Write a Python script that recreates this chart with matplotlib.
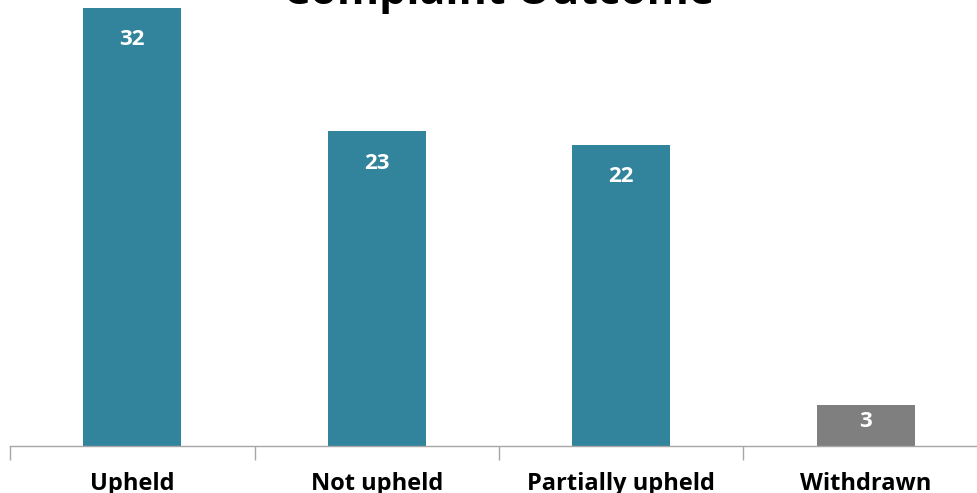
import numpy as np
import matplotlib
matplotlib.use("Agg")
import matplotlib.pyplot as plt

# data
categories = ["Upheld", "Not upheld", "Partially upheld", "Withdrawn"]
counts = [32, 23, 22, 3]
colors = ["#31849B", "#31849B", "#31849B", "#7F7F7F"]

plt.rcParams['font.family'] = ['Open Sans', 'DejaVu Sans']

fig = plt.figure(figsize=(9.77, 4.93), dpi=100)
W, H = 977, 493
# axes runs a bit past the right edge, like the original
ax = fig.add_axes([10 / W, 47 / H, 978 / W, 446 / H])

x = np.arange(len(categories))
bars = ax.bar(x, counts, width=0.4, color=colors, zorder=2)

ax.set_xlim(-0.5, len(categories) - 0.5)
ax.set_ylim(0, 32.58)

for b, v in zip(bars, counts):
    px_h = v * 446 / 32.58
    off = min(32, px_h / 3 + 3)
    ax.annotate(str(v), (b.get_x() + b.get_width() / 2, v), xytext=(0, -off),
                textcoords='offset pixels', ha='center', va='center',
                color='white', fontsize=16, fontweight='bold')

for s in ['top', 'right', 'left']:
    ax.spines[s].set_visible(False)
ax.spines['bottom'].set_color('#A6A6A6')
ax.spines['bottom'].set_linewidth(1.0)
ax.set_yticks([])

ax.set_xticks(x)
ax.set_xticklabels(categories, fontsize=17, fontweight='bold', color='black')
ax.tick_params(axis='x', which='major', length=0, pad=19)
ax.set_xticks(np.arange(len(categories) + 1) - 0.5, minor=True)
ax.tick_params(axis='x', which='minor', length=10, color='#A6A6A6', width=1.0)

# title sits partly above the top edge
fig.text(499 / W, 1 - 4 / H, "Complaint Outcome", fontsize=31, fontweight='bold',
         ha='center', va='baseline')

fig.savefig("out.png", dpi=100)
